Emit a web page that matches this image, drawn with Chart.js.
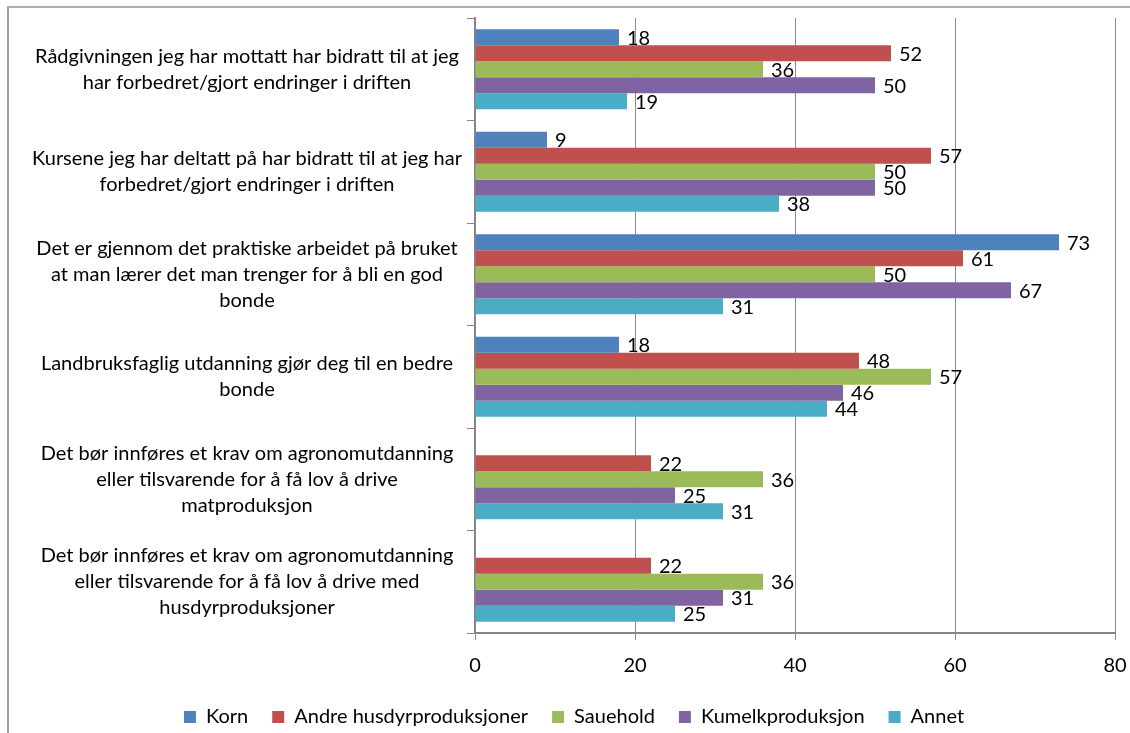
<!DOCTYPE html>
<html>
<head>
<meta charset="utf-8">
<script src="https://cdn.jsdelivr.net/npm/chart.js@4/dist/chart.umd.min.js"></script>
<style>
  html, body { margin: 0; padding: 0; background: #fff; }
  #wrap { position: relative; width: 1130px; height: 733px; overflow: hidden; }
  #frame { position: absolute; left: 7px; top: 6px; width: 2000px; height: 2000px;
           border-top: 2px solid #b0b0b0; border-left: 2px solid #a0a0a0; }
  canvas { position: absolute; left: 0; top: 0; }
</style>
</head>
<body>
<div id="wrap">
  <div id="frame"></div>
  <canvas id="c" width="1130" height="733"></canvas>
</div>
<script>
const categories = [
  ["Rådgivningen jeg har mottatt har bidratt til at jeg", "har forbedret/gjort endringer i driften"],
  ["Kursene jeg har deltatt på har bidratt til at jeg har", "forbedret/gjort endringer i driften"],
  ["Det er gjennom det praktiske arbeidet på bruket", "at man lærer det man trenger for å bli en god", "bonde"],
  ["Landbruksfaglig utdanning gjør deg til en bedre", "bonde"],
  ["Det bør innføres et krav om agronomutdanning", "eller tilsvarende for å få lov å drive", "matproduksjon"],
  ["Det bør innføres et krav om agronomutdanning", "eller tilsvarende for å få lov å drive med", "husdyrproduksjoner"]
];
const seriesNames = ["Korn", "Andre husdyrproduksjoner", "Sauehold", "Kumelkproduksjon", "Annet"];
const korn     = [18, 9, 73, 18, null, null];
const andre    = [52, 57, 61, 48, 22, 22];
const sauehold = [36, 50, 50, 57, 36, 36];
const kumelk   = [50, 50, 67, 46, 25, 31];
const annet    = [19, 38, 31, 44, 31, 25];
const xTicks   = [0, 20, 40, 60, 80];

const colors = ["#4F81BD", "#C0504D", "#9BBB59", "#8064A2", "#4BACC6"];
const FONT = "Lato";

const valueLabels = {
  id: "valueLabels",
  afterDatasetsDraw(chart) {
    const ctx = chart.ctx;
    ctx.save();
    ctx.font = "20px " + FONT;
    ctx.fillStyle = "#000";
    ctx.textAlign = "left";
    ctx.textBaseline = "middle";
    chart.data.datasets.forEach((ds, i) => {
      const meta = chart.getDatasetMeta(i);
      meta.data.forEach((el, j) => {
        const v = ds.data[j];
        if (v === null || v === undefined) return;
        ctx.fillText(String(v), el.x + 8, el.y + 1);
      });
    });
    ctx.restore();
  }
};

const seriesData = [korn, andre, sauehold, kumelk, annet];

new Chart(document.getElementById("c"), {
  type: "bar",
  data: {
    labels: categories,
    datasets: seriesNames.map((name, i) => ({
      label: name,
      data: seriesData[i],
      backgroundColor: colors[i],
      borderWidth: 0,
      categoryPercentage: 0.78,
      barPercentage: 1.0
    }))
  },
  options: {
    indexAxis: "y",
    responsive: false,
    animation: false,
    devicePixelRatio: 1,
    layout: { padding: { top: 18, right: 15, left: 33, bottom: -4 } },
    scales: {
      x: {
        min: 0, max: 80,
        afterBuildTicks(scale) { scale.ticks = xTicks.map(v => ({ value: v })); },
        afterFit(scale) { scale.height = 50; scale.paddingLeft = 0; scale.paddingRight = 0; },
        grid: { color: "#8c8c8c", lineWidth: 1, tickLength: 7, drawTicks: true },
        border: { color: "#868686", width: 2 },
        ticks: { color: "#000", font: { family: FONT, size: 20 }, padding: 14 }
      },
      y: {
        afterFit(scale) { scale.width = 442; scale.paddingTop = 0; scale.paddingBottom = 0; },
        grid: { drawOnChartArea: false, offset: true, color: "#868686", tickLength: 8 },
        border: { color: "#868686", width: 2 },
        ticks: { color: "#000", font: { family: FONT, size: 20, lineHeight: 1.3 },
                 crossAlign: "center", padding: 5, autoSkip: false }
      }
    },
    plugins: {
      legend: {
        position: "bottom",
        labels: { boxWidth: 12, boxHeight: 12, padding: 24, color: "#000",
                  font: { family: FONT, size: 20 } }
      },
      tooltip: { enabled: false }
    }
  },
  plugins: [valueLabels]
});
</script>
</body>
</html>
